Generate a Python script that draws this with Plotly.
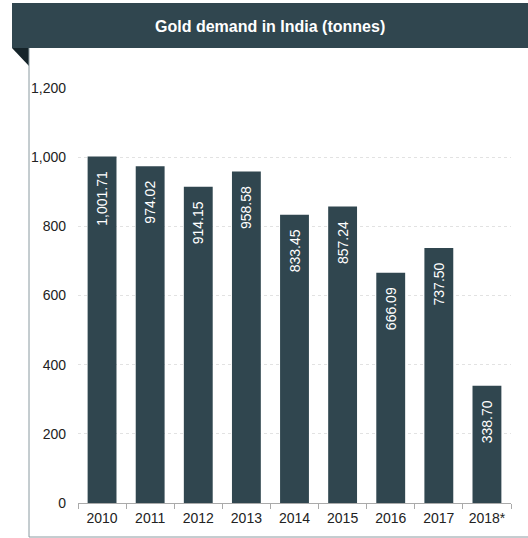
import plotly.graph_objects as go

years = ["2010", "2011", "2012", "2013", "2014", "2015", "2016", "2017", "2018*"]
demand = [1001.71, 974.02, 914.15, 958.58, 833.45, 857.24, 666.09, 737.50, 338.70]
y_ticks = [0, 200, 400, 600, 800, 1000, 1200]

W, H = 528, 538
L, R, T, B = 78, 511, 88, 503  # plot area in pixels
pw, ph = R - L, B - T


def px(x):
    return (x - L) / pw


def py(y):
    return (B - y) / ph


DARK = "#30464f"
FONT = "Liberation Sans, Arial, sans-serif"
PAD = "\u00a0" * 3  # keeps the value label clear of the bar's top edge

fig = go.Figure(
    go.Bar(
        x=years,
        y=demand,
        marker=dict(color=DARK, line=dict(width=0)),
        width=0.6,
        texttemplate="%{y:,.2f}" + PAD,
        textposition="inside",
        insidetextanchor="end",
        textangle=-90,
        textfont=dict(color="white", size=14, family=FONT),
        hoverinfo="skip",
    )
)

shapes = [
    # title banner
    dict(type="rect", xref="paper", yref="paper", x0=px(12), x1=px(530), y0=py(48), y1=py(3),
         fillcolor=DARK, line=dict(width=0), layer="below"),
    # folded corner under banner
    dict(type="path", xref="paper", yref="paper",
         path=f"M {px(12)},{py(48)} L {px(29)},{py(48)} L {px(29)},{py(66)} Z",
         fillcolor="#15242a", line=dict(width=0)),
    # panel border
    dict(type="line", xref="paper", yref="paper", x0=px(29), x1=px(29), y0=py(48), y1=py(537),
         line=dict(color="#8a9aa0", width=1)),
    dict(type="line", xref="paper", yref="paper", x0=px(29), x1=px(530), y0=py(537), y1=py(537),
         line=dict(color="#8a9aa0", width=1)),
]

fig.update_layout(
    width=W,
    height=H,
    margin=dict(l=L, r=W - R, t=T, b=H - B, pad=0),
    paper_bgcolor="white",
    plot_bgcolor="white",
    showlegend=False,
    bargap=0.4,
    font=dict(family=FONT, color="#222222", size=14),
    shapes=shapes,
    annotations=[
        dict(text="<b>Gold demand in India (tonnes)</b>", xref="paper", yref="paper",
             x=px(270), y=py(26), xanchor="center", yanchor="middle", showarrow=False,
             font=dict(color="white", size=16, family=FONT)),
    ],
    xaxis=dict(
        type="category",
        showline=True,
        linecolor="#aaaaaa",
        linewidth=1,
        ticks="outside",
        tickson="boundaries",
        ticklen=5,
        tickcolor="#aaaaaa",
        showgrid=False,
        ticklabelstandoff=2,
        tickfont=dict(size=14, color="#222222"),
    ),
    yaxis=dict(
        range=[0, 1200],
        tickvals=y_ticks,
        tickformat=",",
        showline=False,
        showgrid=True,
        gridcolor="#e2e2e2",
        griddash="dot",
        gridwidth=1,
        zeroline=False,
        ticks="",
        ticklabelstandoff=11,
        tickfont=dict(size=14, color="#222222"),
    ),
)

fig.write_html("out.html")
